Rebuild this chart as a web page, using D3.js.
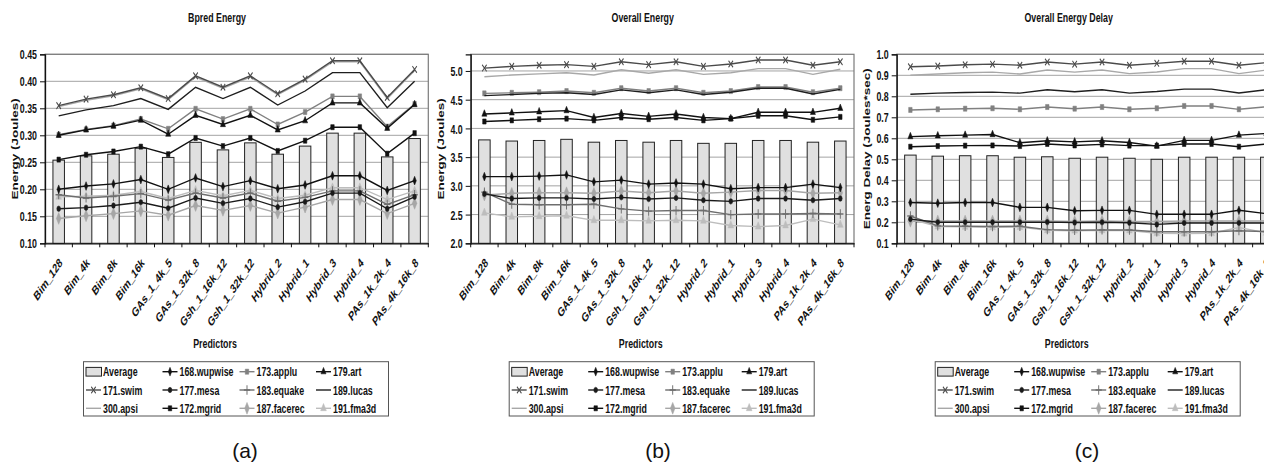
<!DOCTYPE html>
<html>
<head>
<meta charset="utf-8">
<script src="https://cdn.jsdelivr.net/npm/d3@7"></script>
<style>
  body { margin: 0; background: #fff; }
  svg { display: block; }
  text { font-family: "Liberation Sans", Arial, sans-serif; fill: #111; }
</style>
</head>
<body>
<svg id="fig" width="1264" height="463"></svg>
<script>
// categories
const PREDICTORS = [
  "Bim_128", "Bim_4k", "Bim_8k", "Bim_16k", "GAs_1_4k_5", "GAs_1_32k_8",
  "Gsh_1_16k_12", "Gsh_1_32k_12", "Hybrid_2", "Hybrid_1", "Hybrid_3",
  "Hybrid_4", "PAs_1k_2k_4", "PAs_4k_16k_8",
]

// legend layout (rows as in the picture)
const LEGEND_ROWS = [
  ["Average", "168.wupwise", "173.applu", "179.art"],
  ["171.swim", "177.mesa", "183.equake", "189.lucas"],
  ["300.apsi", "172.mgrid", "187.facerec", "191.fma3d"],
]

// draw order of the line series
const LINE_SERIES = [
  "300.apsi", "187.facerec", "191.fma3d", "183.equake", "173.applu",
  "189.lucas", "171.swim", "177.mesa", "172.mgrid", "179.art", "168.wupwise",
]

// (a) Bpred Energy, Joules
const BPRED_ENERGY = {
  "Average":     [0.254, 0.262, 0.265, 0.276, 0.259, 0.287, 0.273, 0.286, 0.265, 0.280, 0.304, 0.304, 0.260, 0.294],
  "168.wupwise": [0.200, 0.206, 0.210, 0.218, 0.200, 0.221, 0.205, 0.216, 0.201, 0.208, 0.225, 0.225, 0.198, 0.216],
  "173.applu":   [0.301, 0.311, 0.318, 0.330, 0.312, 0.349, 0.330, 0.349, 0.320, 0.343, 0.372, 0.372, 0.316, 0.358],
  "179.art":     [0.300, 0.310, 0.317, 0.328, 0.302, 0.337, 0.320, 0.337, 0.310, 0.327, 0.360, 0.360, 0.313, 0.357],
  "171.swim":    [0.355, 0.367, 0.375, 0.388, 0.368, 0.410, 0.389, 0.410, 0.377, 0.404, 0.438, 0.438, 0.370, 0.422],
  "177.mesa":    [0.164, 0.166, 0.170, 0.176, 0.165, 0.184, 0.174, 0.183, 0.167, 0.177, 0.193, 0.193, 0.164, 0.186],
  "183.equake":  [0.190, 0.184, 0.187, 0.192, 0.180, 0.193, 0.184, 0.193, 0.178, 0.185, 0.197, 0.197, 0.172, 0.190],
  "189.lucas":   [0.336, 0.347, 0.355, 0.368, 0.348, 0.389, 0.368, 0.389, 0.356, 0.382, 0.416, 0.416, 0.351, 0.400],
  "300.apsi":    [0.353, 0.365, 0.373, 0.386, 0.366, 0.408, 0.387, 0.408, 0.375, 0.402, 0.436, 0.436, 0.368, 0.420],
  "172.mgrid":   [0.255, 0.264, 0.270, 0.279, 0.265, 0.295, 0.280, 0.295, 0.271, 0.290, 0.315, 0.315, 0.266, 0.304],
  "187.facerec": [0.146, 0.151, 0.155, 0.160, 0.152, 0.170, 0.161, 0.170, 0.156, 0.167, 0.181, 0.181, 0.155, 0.174],
  "191.fma3d":   [0.186, 0.187, 0.189, 0.196, 0.183, 0.198, 0.188, 0.198, 0.183, 0.189, 0.203, 0.203, 0.181, 0.197],
}

// (b) Overall Energy, Joules
const OVERALL_ENERGY = {
  "Average":     [3.80, 3.78, 3.79, 3.81, 3.76, 3.79, 3.76, 3.79, 3.74, 3.74, 3.79, 3.79, 3.76, 3.78],
  "168.wupwise": [3.16, 3.16, 3.17, 3.19, 3.07, 3.10, 3.03, 3.05, 3.03, 2.95, 2.97, 2.97, 3.03, 2.97],
  "173.applu":   [4.61, 4.62, 4.63, 4.65, 4.62, 4.70, 4.65, 4.70, 4.62, 4.65, 4.72, 4.72, 4.63, 4.70],
  "179.art":     [4.25, 4.27, 4.29, 4.31, 4.19, 4.26, 4.21, 4.25, 4.19, 4.17, 4.28, 4.28, 4.28, 4.35],
  "171.swim":    [5.05, 5.08, 5.10, 5.11, 5.08, 5.16, 5.11, 5.16, 5.08, 5.12, 5.19, 5.19, 5.10, 5.16],
  "177.mesa":    [2.86, 2.78, 2.79, 2.79, 2.77, 2.80, 2.77, 2.79, 2.75, 2.73, 2.78, 2.78, 2.75, 2.78],
  "183.equake":  [2.89, 2.68, 2.67, 2.67, 2.68, 2.60, 2.56, 2.57, 2.57, 2.50, 2.51, 2.51, 2.52, 2.51],
  "189.lucas":   [4.57, 4.59, 4.61, 4.62, 4.59, 4.67, 4.62, 4.67, 4.59, 4.63, 4.70, 4.70, 4.60, 4.68],
  "300.apsi":    [4.90, 4.93, 4.95, 4.97, 4.93, 5.02, 4.96, 5.02, 4.94, 4.97, 5.04, 5.04, 4.94, 5.03],
  "172.mgrid":   [4.12, 4.14, 4.16, 4.17, 4.14, 4.19, 4.16, 4.19, 4.14, 4.17, 4.22, 4.22, 4.15, 4.20],
  "187.facerec": [2.84, 2.87, 2.88, 2.88, 2.87, 2.91, 2.88, 2.91, 2.87, 2.89, 2.92, 2.92, 2.87, 2.88],
  "191.fma3d":   [2.53, 2.46, 2.47, 2.48, 2.40, 2.40, 2.39, 2.40, 2.39, 2.31, 2.29, 2.31, 2.42, 2.32],
}

// (c) Overall Energy Delay, Joules*sec
const OVERALL_ENERGY_DELAY = {
  "Average":     [0.520, 0.515, 0.517, 0.517, 0.510, 0.512, 0.505, 0.510, 0.505, 0.500, 0.510, 0.510, 0.510, 0.510],
  "168.wupwise": [0.294, 0.291, 0.294, 0.294, 0.271, 0.271, 0.255, 0.257, 0.257, 0.238, 0.238, 0.238, 0.257, 0.241],
  "173.applu":   [0.735, 0.738, 0.741, 0.743, 0.738, 0.749, 0.741, 0.749, 0.738, 0.743, 0.754, 0.754, 0.738, 0.750],
  "179.art":     [0.608, 0.612, 0.615, 0.618, 0.579, 0.588, 0.583, 0.588, 0.580, 0.563, 0.590, 0.590, 0.615, 0.623],
  "171.swim":    [0.941, 0.944, 0.950, 0.953, 0.948, 0.963, 0.953, 0.963, 0.948, 0.957, 0.967, 0.967, 0.948, 0.960],
  "177.mesa":    [0.215, 0.200, 0.200, 0.200, 0.200, 0.201, 0.199, 0.200, 0.198, 0.190, 0.197, 0.197, 0.197, 0.197],
  "183.equake":  [0.230, 0.183, 0.181, 0.180, 0.181, 0.165, 0.162, 0.164, 0.163, 0.155, 0.155, 0.155, 0.160, 0.156],
  "189.lucas":   [0.810, 0.815, 0.818, 0.820, 0.815, 0.831, 0.822, 0.831, 0.815, 0.823, 0.834, 0.834, 0.816, 0.831],
  "300.apsi":    [0.901, 0.906, 0.912, 0.915, 0.906, 0.925, 0.915, 0.925, 0.908, 0.916, 0.932, 0.932, 0.908, 0.925],
  "172.mgrid":   [0.560, 0.563, 0.565, 0.566, 0.563, 0.573, 0.566, 0.571, 0.565, 0.565, 0.573, 0.573, 0.560, 0.573],
  "187.facerec": [0.205, 0.206, 0.206, 0.206, 0.206, 0.206, 0.204, 0.206, 0.204, 0.204, 0.206, 0.206, 0.206, 0.206],
  "191.fma3d":   [0.215, 0.180, 0.178, 0.176, 0.177, 0.162, 0.160, 0.162, 0.161, 0.148, 0.146, 0.148, 0.175, 0.150],
}

// tick labels
const BPRED_TICKS = [0.10, 0.15, 0.20, 0.25, 0.30, 0.35, 0.40, 0.45]
const OVERALL_TICKS = [2.0, 2.5, 3.0, 3.5, 4.0, 4.5, 5.0]
const DELAY_TICKS = [0.1, 0.2, 0.3, 0.4, 0.5, 0.6, 0.7, 0.8, 0.9, 1.0]

/*
 * ------------------------------------------------
 * Styles and layout
 * ------------------------------------------------
 */
const SX = 0.68 // the scanned figure is squeezed horizontally
const FONT = 13
const TOP = 54.3
const BOTTOM = 243.3
const PLOT_W = 383.3

const sym = (name, fallback) => d3[name] || fallback

const STYLE = {
  "168.wupwise": { color: "#111", marker: d3.symbolDiamond, size: 22 },
  "173.applu":   { color: "#808080", marker: d3.symbolSquare, size: 26 },
  "179.art":     { color: "#111", marker: d3.symbolTriangle, size: 24 },
  "171.swim":    { color: "#4a4a4a", marker: sym("symbolTimes", d3.symbolCross), size: 30, stroke: true },
  "177.mesa":    { color: "#1a1a1a", marker: d3.symbolCircle, size: 24 },
  "183.equake":  { color: "#6e6e6e", marker: sym("symbolPlus", d3.symbolCross), size: 30, stroke: true },
  "189.lucas":   { color: "#1e1e1e", marker: null },
  "300.apsi":    { color: "#a8a8a8", marker: null },
  "172.mgrid":   { color: "#111", marker: d3.symbolSquare, size: 26 },
  "187.facerec": { color: "#a6a6a6", marker: d3.symbolDiamond, size: 40 },
  "191.fma3d":   { color: "#bdbdbd", marker: d3.symbolTriangle, size: 30 },
}

const PANELS = [
  { title: "Bpred Energy", yTitle: "Energy (Joules)", data: BPRED_ENERGY, ticks: BPRED_TICKS,
    domain: [0.10, 0.45], fmt: d3.format(".2f"), left: 45, tag: "(a)", tagX: 245 },
  { title: "Overall Energy", yTitle: "Energy (Joules)", data: OVERALL_ENERGY, ticks: OVERALL_TICKS,
    domain: [2.0, 5.29], fmt: d3.format(".1f"), left: 470.7, tag: "(b)", tagX: 658 },
  { title: "Overall Energy Delay", yTitle: "Energ Delay (Joules*sec)", data: OVERALL_ENERGY_DELAY, ticks: DELAY_TICKS,
    domain: [0.1, 1.0], fmt: d3.format(".1f"), left: 896.7, tag: "(c)", tagX: 1087 },
]

const svg = d3.select("#fig")

const squeezed = (sel, x, y, extra = "") =>
  sel.attr("transform", `translate(${x},${y}) scale(${SX},1) ${extra}`)

const drawMarker = (g, style, cx, cy) => {
  if (!style.marker) return
  squeezed(g.append("path"), cx, cy)
    .attr("d", d3.symbol(style.marker, style.size)())
    .attr("fill", style.stroke ? "none" : style.color)
    .attr("stroke", style.color)
    .attr("stroke-width", style.stroke ? 1.4 : 0.6)
}

PANELS.forEach((p) => {
  const g = svg.append("g")

  const x = d3.scaleBand()
    .domain(PREDICTORS)
    .range([p.left, p.left + PLOT_W])
    .paddingInner(0.58)
    .paddingOuter(0.29)
  const cx = (c) => x(c) + x.bandwidth() / 2

  const y = d3.scaleLinear().domain(p.domain).range([BOTTOM, TOP])

  // gridlines
  g.append("g")
    .selectAll("line")
    .data(p.ticks)
    .join("line")
    .attr("x1", p.left)
    .attr("x2", p.left + PLOT_W)
    .attr("y1", (d) => y(d))
    .attr("y2", (d) => y(d))
    .attr("stroke", "#a3a3a3")
    .attr("stroke-width", 1)

  // plot frame
  g.append("rect")
    .attr("x", p.left)
    .attr("y", TOP)
    .attr("width", PLOT_W)
    .attr("height", BOTTOM - TOP)
    .attr("fill", "none")
    .attr("stroke", "#7a7a7a")
    .attr("stroke-width", 1.2)

  // average bars
  g.append("g")
    .selectAll("rect")
    .data(PREDICTORS.map((c, i) => [c, p.data["Average"][i]]))
    .join("rect")
    .attr("x", (d) => x(d[0]))
    .attr("y", (d) => y(d[1]))
    .attr("width", x.bandwidth())
    .attr("height", (d) => BOTTOM - y(d[1]))
    .attr("fill", "#e0e0e0")
    .attr("stroke", "#222")
    .attr("stroke-width", 1)

  // line series
  const line = d3.line().x((d) => cx(d[0])).y((d) => y(d[1]))
  LINE_SERIES.forEach((name) => {
    const style = STYLE[name]
    const pts = PREDICTORS.map((c, i) => [c, p.data[name][i]])
    g.append("path")
      .datum(pts)
      .attr("d", line)
      .attr("fill", "none")
      .attr("stroke", style.color)
      .attr("stroke-width", 1.4)
    const mg = g.append("g")
    pts.forEach((d) => drawMarker(mg, style, cx(d[0]), y(d[1])))
  })

  // y axis
  const yAxis = g.append("g")
    .attr("transform", `translate(${p.left},0)`)
    .call(d3.axisLeft(y).tickValues(p.ticks).tickFormat(p.fmt).tickSize(5).tickPadding(6))
  yAxis.select(".domain").attr("stroke", "#111").attr("stroke-width", 1.3)
  yAxis.selectAll(".tick line").attr("stroke", "#111")
  yAxis.selectAll(".tick text")
    .attr("x", null)
    .attr("dy", "0.36em")
    .attr("font-size", FONT)
    .attr("font-weight", "bold")
    .attr("font-family", null)
    .each(function () {
      squeezed(d3.select(this), -8, 0)
    })

  // x axis
  const xAxis = g.append("g")
    .attr("transform", `translate(0,${BOTTOM})`)
    .call(d3.axisBottom(x).tickSize(0).tickPadding(0))
  xAxis.select(".domain").attr("stroke", "#111").attr("stroke-width", 1.3)
  xAxis.selectAll(".tick text")
    .attr("y", null)
    .attr("dy", "0.36em")
    .attr("text-anchor", "end")
    .attr("font-size", FONT)
    .attr("font-weight", "bold")
    .attr("font-family", null)
    .each(function () {
      squeezed(d3.select(this), 2, 17, "rotate(-45)")
    })

  // tick marks between the bands
  g.append("g")
    .selectAll("line")
    .data(d3.range(PREDICTORS.length + 1))
    .join("line")
    .attr("x1", (i) => p.left + i * x.step())
    .attr("x2", (i) => p.left + i * x.step())
    .attr("y1", BOTTOM)
    .attr("y2", BOTTOM + 4)
    .attr("stroke", "#111")

  // titles
  squeezed(g.append("text"), p.left + 172, 21.5)
    .attr("text-anchor", "middle")
    .attr("font-size", FONT)
    .attr("font-weight", "bold")
    .text(p.title)

  squeezed(g.append("text"), p.left - 30.5, (TOP + BOTTOM) / 2, "rotate(-90)")
    .attr("text-anchor", "middle")
    .attr("dy", "0.36em")
    .attr("font-size", FONT + 0.5)
    .attr("font-weight", "bold")
    .text(p.yTitle)

  squeezed(g.append("text"), p.left + 170, 347.5)
    .attr("text-anchor", "middle")
    .attr("font-size", FONT)
    .attr("font-weight", "bold")
    .text("Predictors")

  g.append("text")
    .attr("x", p.tagX)
    .attr("y", 458)
    .attr("text-anchor", "middle")
    .attr("font-size", 21)
    .text(p.tag)

  /*
   * ------------------------------------------------
   * Legend
   * ------------------------------------------------
   */
  const lg = g.append("g").attr("transform", `translate(${p.left + 38.5},361.7)`)
  lg.append("rect")
    .attr("width", 305)
    .attr("height", 54.3)
    .attr("fill", "#fff")
    .attr("stroke", "#555")
    .attr("stroke-width", 1)

  const COLS = [2.5, 79, 156, 232.5]
  LEGEND_ROWS.forEach((row, r) => {
    row.forEach((name, c) => {
      const x0 = COLS[c]
      const yc = 10 + r * 18.3
      if (name === "Average") {
        lg.append("rect")
          .attr("x", x0)
          .attr("y", yc - 4.3)
          .attr("width", 15.5)
          .attr("height", 8.7)
          .attr("fill", "#e0e0e0")
          .attr("stroke", "#222")
      } else {
        const style = STYLE[name]
        lg.append("line")
          .attr("x1", x0)
          .attr("x2", x0 + 15)
          .attr("y1", yc)
          .attr("y2", yc)
          .attr("stroke", style.color)
          .attr("stroke-width", 1.4)
        drawMarker(lg, style, x0 + 7.5, yc)
      }
      squeezed(lg.append("text"), x0 + 17, yc + 4.6)
        .attr("font-size", FONT)
        .attr("font-weight", "bold")
        .text(name)
    })
  })
})
</script>
</body>
</html>
